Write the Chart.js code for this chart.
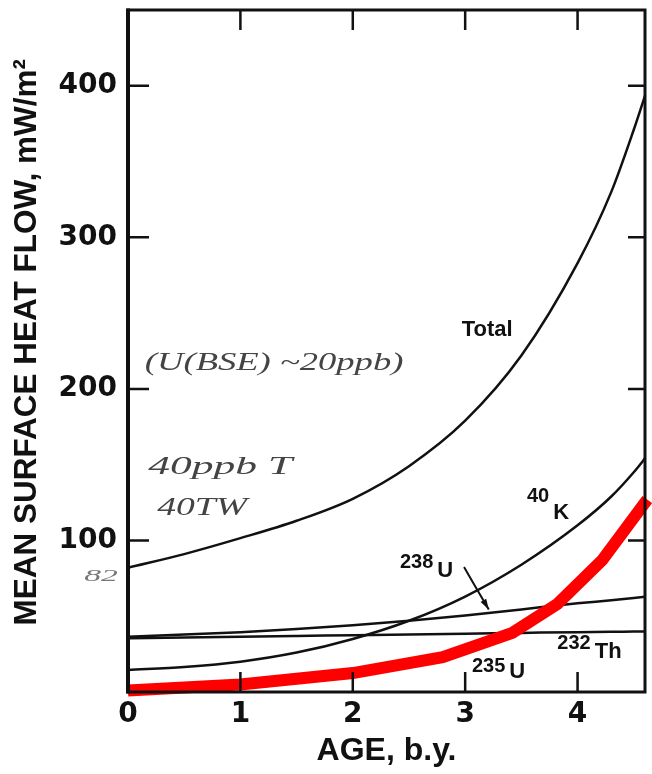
<!DOCTYPE html>
<html>
<head>
<meta charset="utf-8">
<script src="https://cdn.jsdelivr.net/npm/chart.js@4.4.1/dist/chart.umd.min.js"></script>
<style>
  html, body { margin: 0; padding: 0; background: #ffffff; }
  #c { display: block; }
</style>
</head>
<body>
<canvas id="c" width="652" height="774" style="width:652px;height:774px"></canvas>
<script>
// ---------- data ----------
const ageGrid = [0, 0.5, 1, 1.5, 2, 2.5, 3, 3.5, 4, 4.3, 4.5, 4.62];
const totalFlow = [82, 91, 101.5, 113, 127.5, 149, 179, 222, 283, 330, 371, 398];
const k40Flow = [14.5, 16.5, 20, 26, 35, 47, 63, 84, 110, 129, 145, 156];
const u238Flow = [36.5, 38, 39.5, 41.5, 44, 47, 50.5, 54.5, 58.5, 60.5, 62, 63];
const th232Flow = [35.5, 36, 36.5, 37, 37.5, 38, 38.5, 39, 39.5, 39.7, 39.9, 40];
const redAge = [0, 1, 2, 2.8, 3.42, 3.82, 4.22, 4.62];
const redFlow = [1, 5, 12.5, 23, 39, 58, 87, 127];
const xTickValues = [0, 1, 2, 3, 4];
const yTickValues = [100, 200, 300, 400];
const xTitle = 'AGE, b.y.';
const yTitle = 'MEAN SURFACE HEAT FLOW, mW/m\u00B2';

const pts = (xs, ys) => xs.map((x, i) => ({ x: x, y: ys[i] }));

// ---------- annotation text (positions in data units) ----------
const curveLabels = [
  { sup: '', main: 'Total', x: 2.97, y: 235, supDy: 0 },
  { sup: '40', main: 'K', x: 3.55, y: 114, supDy: 17 },
  { sup: '238', main: 'U', x: 2.42, y: 76, supDy: 9 },
  { sup: '235', main: 'U', x: 3.06, y: 9.3, supDy: 6 },
  { sup: '232', main: 'Th', x: 3.82, y: 22.5, supDy: 9 }
];
const notes = [
  { text: '(U(BSE) ~20ppb)', x: 0.15, y: 217, w: 2.30, size: 26, color: '#444444' },
  { text: '40ppb T', x: 0.18, y: 148.5, w: 1.28, size: 26, color: '#444444' },
  { text: '40TW', x: 0.26, y: 121.4, w: 0.80, size: 26, color: '#444444' },
  { text: '82', x: -0.39, y: 76, w: 0.30, size: 17, color: '#777777' }
];
const arrowPts = [[2.99, 82.5], [3.09, 69.5], [3.21, 54.5]];

const framePlugin = {
  id: 'frame',
  afterDraw(chart) {
    const ctx = chart.ctx;
    const a = chart.chartArea;
    const xs = chart.scales.x, ys = chart.scales.y;
    ctx.save();
    ctx.strokeStyle = '#111';
    ctx.lineCap = 'butt';
    // ticks (inward)
    ctx.lineWidth = 2.5;
    xTickValues.forEach(v => {
      if (v === 0) return;
      const px = xs.getPixelForValue(v);
      ctx.beginPath();
      ctx.moveTo(px, a.bottom); ctx.lineTo(px, a.bottom - 20);
      ctx.moveTo(px, a.top); ctx.lineTo(px, a.top + 20);
      ctx.stroke();
    });
    yTickValues.forEach(v => {
      const py = ys.getPixelForValue(v);
      ctx.beginPath();
      ctx.moveTo(a.left, py); ctx.lineTo(a.left + 21, py);
      ctx.moveTo(a.right, py); ctx.lineTo(a.right - 17, py);
      ctx.stroke();
    });
    // box
    ctx.lineWidth = 3;
    ctx.strokeRect(a.left, a.top, a.right - a.left, a.bottom - a.top);
    ctx.lineWidth = 4;
    ctx.beginPath(); ctx.moveTo(a.left, a.top - 1.5); ctx.lineTo(a.left, a.bottom + 1.5); ctx.stroke();

    // curve labels
    ctx.fillStyle = '#111';
    ctx.textBaseline = 'alphabetic';
    ctx.textAlign = 'left';
    curveLabels.forEach(l => {
      let px = xs.getPixelForValue(l.x);
      const py = ys.getPixelForValue(l.y);
      if (l.sup) {
        ctx.font = 'bold 20px "Liberation Sans", Arial, sans-serif';
        ctx.fillText(l.sup, px, py - l.supDy);
        px += ctx.measureText(l.sup).width + 4;
      }
      ctx.font = 'bold 22px "Liberation Sans", Arial, sans-serif';
      ctx.fillText(l.main, px, py);
    });

    // arrow for 238U
    ctx.lineWidth = 2;
    ctx.beginPath();
    const ap = arrowPts.map(p => [xs.getPixelForValue(p[0]), ys.getPixelForValue(p[1])]);
    ctx.moveTo(ap[0][0], ap[0][1]);
    ctx.quadraticCurveTo(ap[1][0], ap[1][1], ap[2][0], ap[2][1]);
    ctx.stroke();
    const ang = Math.atan2(ap[2][1] - ap[1][1], ap[2][0] - ap[1][0]);
    ctx.beginPath();
    ctx.moveTo(ap[2][0], ap[2][1]);
    ctx.lineTo(ap[2][0] - 11 * Math.cos(ang - 0.3), ap[2][1] - 11 * Math.sin(ang - 0.3));
    ctx.lineTo(ap[2][0] - 11 * Math.cos(ang + 0.3), ap[2][1] - 11 * Math.sin(ang + 0.3));
    ctx.closePath();
    ctx.fill();

    // handwritten notes
    notes.forEach(n => {
      const px = xs.getPixelForValue(n.x);
      const py = ys.getPixelForValue(n.y);
      const wpx = xs.getPixelForValue(n.x + n.w) - px;
      ctx.font = 'italic ' + n.size + 'px "Liberation Serif", serif';
      ctx.fillStyle = n.color;
      ctx.textBaseline = 'middle';
      const mw = ctx.measureText(n.text).width;
      ctx.save();
      ctx.translate(px, py);
      ctx.scale(wpx / mw, 1);
      ctx.fillText(n.text, 0, 0);
      ctx.restore();
    });
    ctx.restore();
  }
};

const black = '#111111';
const lineDs = (data) => ({
  data: data, borderColor: black, borderWidth: 2.5, pointRadius: 0,
  cubicInterpolationMode: 'monotone', fill: false
});

new Chart(document.getElementById('c'), {
  type: 'line',
  data: {
    datasets: [
      { data: pts(redAge, redFlow), borderColor: '#ff0000', borderWidth: 12, pointRadius: 0,
        tension: 0, fill: false, clip: false, borderJoinStyle: 'miter', borderCapStyle: 'butt' },
      lineDs(pts(ageGrid, totalFlow)),
      lineDs(pts(ageGrid, k40Flow)),
      lineDs(pts(ageGrid, u238Flow)),
      lineDs(pts(ageGrid, th232Flow))
    ]
  },
  options: {
    responsive: false,
    animation: false,
    layout: { padding: { left: 0, right: 7, top: 10, bottom: 0 } },
    plugins: { legend: { display: false }, tooltip: { enabled: false } },
    scales: {
      x: {
        type: 'linear', min: 0, max: 4.6,
        grid: { display: false, drawTicks: false },
        border: { display: false },
        afterBuildTicks: s => { s.ticks = xTickValues.map(v => ({ value: v })); },
        afterFit: s => { s.height = 82; s.paddingLeft = 0; s.paddingRight = 0; },
        ticks: {
          autoSkip: false, maxRotation: 0, padding: 6, color: '#111',
          font: { family: 'DejaVu Sans', weight: 'bold', size: 28 },
          callback: v => String(v)
        },
        title: {
          display: true, text: xTitle, color: '#111',
          font: { family: 'Liberation Sans', weight: 'bold', size: 32 },
          padding: { top: 0, bottom: 4 }
        }
      },
      y: {
        type: 'linear', min: 0, max: 450,
        grid: { display: false, drawTicks: false },
        border: { display: false },
        afterBuildTicks: s => { s.ticks = yTickValues.map(v => ({ value: v })); },
        afterFit: s => { s.width = 128; s.paddingTop = 0; s.paddingBottom = 0; },
        ticks: {
          padding: 11, color: '#111',
          font: { family: 'DejaVu Sans', weight: 'bold', size: 28 },
          callback: v => String(v)
        },
        title: {
          display: true, text: '\u00A0\u00A0' + yTitle, color: '#111',
          font: { family: 'Liberation Sans', weight: 'bold', size: 31.5 },
          padding: { top: 8, bottom: 0 }
        }
      }
    }
  },
  plugins: [framePlugin]
});
</script>
</body>
</html>
